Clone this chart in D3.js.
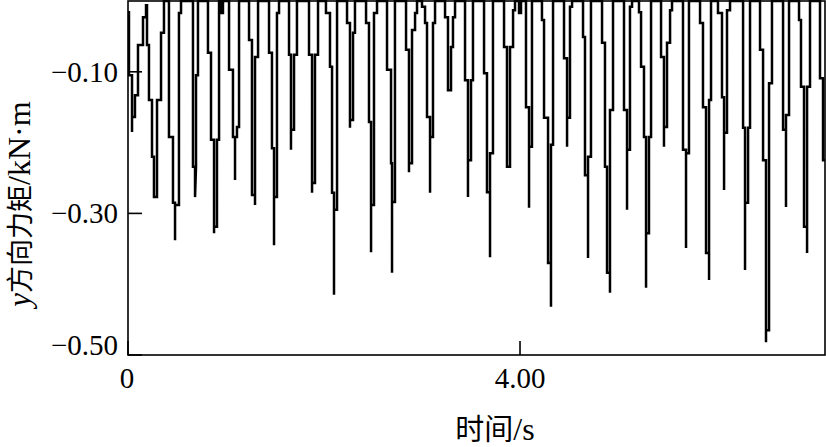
<!DOCTYPE html>
<html><head><meta charset="utf-8">
<script src="https://cdn.jsdelivr.net/npm/d3@7"></script>
<style>body{margin:0;background:#fff}svg{display:block}
.serif{font-family:"Liberation Serif","Times New Roman",Times,serif}
.cjk{font-family:"Noto Sans CJK SC","Noto Sans CJK JP",sans-serif}
</style>
</head><body>
<svg id="chart" width="826" height="447"></svg>
<script>
// y-direction moment (kN·m) vs time (s): vertices of the stepped signal
const series = [
[0,-0.016],[0.010,-0.016],[0.010,-0.105],[0.041,-0.105],[0.041,-0.185],[0.041,-0.164],[0.071,-0.164],[0.071,-0.133],[0.102,-0.133],[0.102,-0.062],[0.153,-0.062],[0.153,-0.023],[0.184,-0.023],[0.184,-0.006],[0.194,-0.006],[0.194,-0.062],[0.214,-0.062],[0.214,-0.140],[0.245,-0.140],[0.245,-0.220],[0.265,-0.220],[0.265,-0.277],[0.296,-0.277],[0.296,-0.140],[0.337,-0.140],[0.337,-0.045],[0.367,-0.045],[0.367,0],
[0.418,0],[0.418,-0.192],[0.459,-0.192],[0.459,-0.285],[0.480,-0.285],[0.480,-0.338],[0.480,-0.288],[0.520,-0.288],[0.520,-0.017],[0.541,-0.017],[0.541,0],
[0.663,0],[0.663,-0.234],[0.684,-0.234],[0.684,-0.277],[0.694,-0.234],[0.694,-0.105],[0.714,-0.105],[0.714,0],
[0.816,0],[0.816,-0.073],[0.847,-0.073],[0.847,-0.196],[0.878,-0.196],[0.878,-0.328],[0.878,-0.319],[0.908,-0.319],[0.908,-0.196],[0.929,-0.196],[0.929,0],
[0.949,0],[0.949,-0.017],[0.969,-0.017],[0.969,0],
[1.031,0],[1.031,-0.097],[1.071,-0.097],[1.071,-0.192],[1.092,-0.192],[1.092,-0.253],[1.092,-0.192],[1.112,-0.192],[1.112,-0.178],[1.133,-0.178],[1.133,0],
[1.235,0],[1.235,-0.055],[1.265,-0.055],[1.265,-0.274],[1.296,-0.274],[1.296,-0.288],[1.296,-0.079],[1.327,-0.079],[1.327,0],
[1.439,0],[1.439,-0.073],[1.469,-0.073],[1.469,-0.208],[1.490,-0.208],[1.490,-0.345],[1.490,-0.277],[1.520,-0.277],[1.520,-0.017],[1.541,-0.017],[1.541,0],
[1.643,0],[1.643,-0.076],[1.663,-0.076],[1.663,-0.210],[1.663,-0.182],[1.694,-0.182],[1.694,-0.076],[1.724,-0.076],[1.724,0],
[1.847,0],[1.847,-0.076],[1.878,-0.076],[1.878,-0.271],[1.878,-0.257],[1.908,-0.257],[1.908,-0.076],[1.939,-0.076],[1.939,0],
[2.020,0],[2.020,-0.017],[2.061,-0.017],[2.061,-0.093],[2.082,-0.093],[2.082,-0.271],[2.102,-0.271],[2.102,-0.415],[2.102,-0.295],[2.133,-0.295],[2.133,0],
[2.235,0],[2.235,-0.031],[2.265,-0.031],[2.265,-0.179],[2.265,-0.168],[2.296,-0.168],[2.296,-0.045],[2.316,-0.045],[2.316,0],
[2.429,0],[2.429,-0.031],[2.459,-0.031],[2.459,-0.171],[2.480,-0.171],[2.480,-0.355],[2.480,-0.288],[2.510,-0.288],[2.510,-0.017],[2.541,-0.017],[2.541,0],
[2.643,0],[2.643,-0.097],[2.684,-0.097],[2.684,-0.229],[2.694,-0.229],[2.694,-0.384],[2.694,-0.284],[2.724,-0.284],[2.724,0],
[2.837,0],[2.837,-0.069],[2.867,-0.069],[2.867,-0.242],[2.867,-0.229],[2.898,-0.229],[2.898,-0.041],[2.929,-0.041],[2.929,-0.017],[2.949,-0.017],[2.949,0],
[3.000,0],[3.000,-0.008],[3.031,-0.008],[3.031,-0.031],[3.051,-0.031],[3.051,-0.164],[3.082,-0.164],[3.082,-0.271],[3.082,-0.192],[3.112,-0.192],[3.112,-0.031],[3.133,-0.031],[3.133,0],
[3.235,0],[3.235,-0.023],[3.265,-0.023],[3.265,-0.126],[3.296,-0.126],[3.296,-0.065],[3.316,-0.065],[3.316,-0.023],[3.337,-0.023],[3.337,0],
[3.439,0],[3.439,-0.112],[3.469,-0.112],[3.469,-0.277],[3.469,-0.225],[3.500,-0.225],[3.500,-0.112],[3.520,-0.112],[3.520,0],
[3.633,0],[3.633,-0.102],[3.663,-0.102],[3.663,-0.270],[3.694,-0.270],[3.694,-0.362],[3.694,-0.215],[3.724,-0.215],[3.724,0],
[3.837,0],[3.837,-0.065],[3.867,-0.065],[3.867,-0.234],[3.898,-0.234],[3.898,-0.065],[3.929,-0.065],[3.929,-0.013],[3.949,-0.013],[3.949,0],
[3.990,0],[3.990,-0.017],[4.010,-0.017],[4.010,0],
[4.061,0],[4.061,-0.150],[4.092,-0.150],[4.092,-0.292],[4.092,-0.206],[4.122,-0.206],[4.122,0],
[4.224,0],[4.224,-0.027],[4.245,-0.027],[4.245,-0.165],[4.286,-0.165],[4.286,-0.370],[4.316,-0.370],[4.316,-0.432],[4.316,-0.203],[4.337,-0.203],[4.337,0],
[4.449,0],[4.449,-0.081],[4.480,-0.081],[4.480,-0.206],[4.480,-0.165],[4.510,-0.165],[4.510,-0.008],[4.531,-0.008],[4.531,0],
[4.643,0],[4.643,-0.051],[4.663,-0.051],[4.663,-0.246],[4.694,-0.246],[4.694,-0.363],[4.694,-0.220],[4.724,-0.220],[4.724,0],
[4.837,0],[4.837,-0.059],[4.867,-0.059],[4.867,-0.234],[4.888,-0.234],[4.888,-0.384],[4.918,-0.384],[4.918,-0.412],[4.918,-0.154],[4.949,-0.154],[4.949,0],
[5.061,0],[5.061,-0.154],[5.092,-0.154],[5.092,-0.295],[5.092,-0.210],[5.122,-0.210],[5.122,-0.008],[5.143,-0.008],[5.143,0],
[5.214,0],[5.214,-0.016],[5.235,-0.016],[5.235,-0.093],[5.265,-0.093],[5.265,-0.192],[5.286,-0.192],[5.286,-0.405],[5.286,-0.328],[5.316,-0.328],[5.316,-0.192],[5.337,-0.192],[5.337,0],
[5.439,0],[5.439,-0.079],[5.469,-0.079],[5.469,-0.206],[5.469,-0.178],[5.500,-0.178],[5.500,-0.059],[5.531,-0.059],[5.531,-0.013],[5.551,-0.013],[5.551,0],
[5.663,0],[5.663,-0.210],[5.694,-0.210],[5.694,-0.349],[5.694,-0.215],[5.724,-0.215],[5.724,0],
[5.837,0],[5.837,-0.031],[5.867,-0.031],[5.867,-0.150],[5.898,-0.150],[5.898,-0.356],[5.929,-0.356],[5.929,-0.394],[5.929,-0.140],[5.949,-0.140],[5.949,0],
[6.020,0],[6.020,-0.017],[6.061,-0.017],[6.061,-0.136],[6.082,-0.136],[6.082,-0.267],[6.082,-0.186],[6.112,-0.186],[6.112,-0.013],[6.143,-0.013],[6.143,0],
[6.276,0],[6.276,-0.179],[6.296,-0.179],[6.296,-0.380],[6.296,-0.285],[6.327,-0.285],[6.327,-0.179],[6.347,-0.179],[6.347,0],
[6.449,0],[6.449,-0.069],[6.480,-0.069],[6.480,-0.225],[6.510,-0.225],[6.510,-0.482],[6.510,-0.465],[6.541,-0.465],[6.541,-0.116],[6.571,-0.116],[6.571,0],
[6.684,0],[6.684,-0.182],[6.714,-0.182],[6.714,-0.291],[6.714,-0.161],[6.745,-0.161],[6.745,0],
[6.847,0],[6.847,-0.027],[6.867,-0.027],[6.867,-0.121],[6.898,-0.121],[6.898,-0.319],[6.929,-0.319],[6.929,-0.356],[6.929,-0.121],[6.959,-0.121],[6.959,0],
[7.061,0],[7.061,-0.109],[7.092,-0.109],[7.092,-0.225],[7.112,-0.225]
];
const xDomain = [0, 7.112];
const yDomain = [-0.5, 0];
const xTicks = [0, 4];
const xTickLabels = ["0", "4.00"];
const yTicks = [-0.10, -0.30, -0.50];
const yTickLabels = ["\u22120.10", "\u22120.30", "\u22120.50"];
const xTitleParts = ["时间", "/s"];
const yTitleParts = ["y", "方向力矩", "/kN·m"];

const svg = d3.select("#chart");
const L = 128, R = 825, T = 1, B = 355;
const x = d3.scaleLinear().domain(xDomain).range([L, R]);
const y = d3.scaleLinear().domain(yDomain).range([B, T]);

svg.append("clipPath").attr("id","plotclip").append("rect")
  .attr("x", L).attr("y", T - 1).attr("width", R - L + 1).attr("height", B - T + 1);
svg.append("path")
  .datum(series)
  .attr("clip-path", "url(#plotclip)")
  .attr("d", d3.line().x(d => x(d[0])).y(d => y(d[1])))
  .attr("fill", "none")
  .attr("stroke", "#000")
  .attr("stroke-width", 2.5)
  .attr("stroke-linejoin", "miter");

// frame
svg.append("rect").attr("x", L).attr("y", T).attr("width", R - L).attr("height", B - T)
  .attr("fill", "none").attr("stroke", "#000").attr("stroke-width", 1.6);

// y ticks (inward)
svg.append("g").selectAll("line").data(yTicks).join("line")
  .attr("x1", L).attr("x2", L + 14)
  .attr("y1", d => y(d)).attr("y2", d => y(d))
  .attr("stroke", "#000").attr("stroke-width", 1.6);
svg.append("g").selectAll("text").data(yTicks).join("text")
  .attr("class", "serif")
  .attr("x", 118)
  .attr("y", d => Math.min(y(d) + 10, B))
  .attr("text-anchor", "end")
  .attr("font-size", 29)
  .text((d, i) => yTickLabels[i]);

// x ticks (inward)
svg.append("g").selectAll("line").data(xTicks).join("line")
  .attr("x1", d => x(d)).attr("x2", d => x(d))
  .attr("y1", B).attr("y2", B - 14)
  .attr("stroke", "#000").attr("stroke-width", 1.6);
svg.append("g").selectAll("text").data(xTicks).join("text")
  .attr("class", "serif")
  .attr("x", d => x(d) - (d === 0 ? 1 : 0))
  .attr("y", 388)
  .attr("text-anchor", "middle")
  .attr("font-size", 29)
  .text((d, i) => xTickLabels[i]);

// axis titles
const xt = svg.append("text").attr("x", 495).attr("y", 440).attr("text-anchor", "middle")
  .attr("font-size", 29);
xt.append("tspan").attr("class", "cjk").text(xTitleParts[0]);
xt.append("tspan").attr("class", "serif").attr("font-size", 32).text(xTitleParts[1]);

const yt = svg.append("text").attr("transform", "translate(30,204) rotate(-90)")
  .attr("text-anchor", "middle").attr("font-size", 27);
yt.append("tspan").attr("class", "serif").attr("font-style", "italic").attr("font-size", 31).text(yTitleParts[0]);
yt.append("tspan").attr("class", "cjk").text(yTitleParts[1]);
yt.append("tspan").attr("class", "serif").attr("font-size", 32).text(yTitleParts[2]);
</script>
</body></html>
